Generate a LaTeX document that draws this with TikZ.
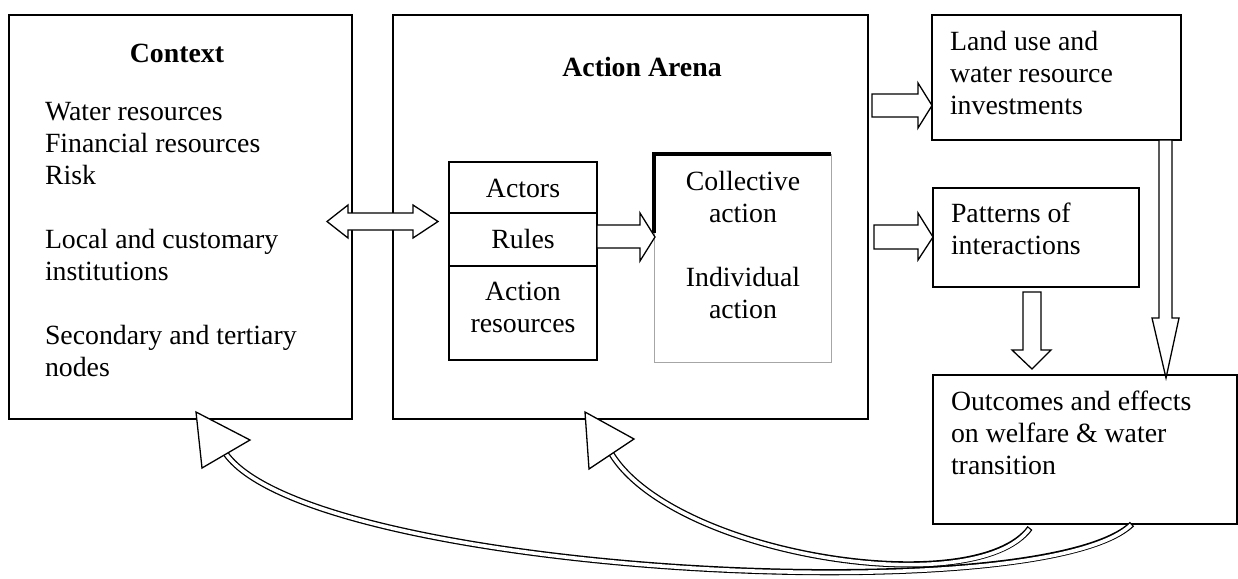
\documentclass[tikz,border=0pt]{standalone}
\usepackage{fontspec}
\setmainfont{Liberation Serif}
\usetikzlibrary{calc}
\begin{document}
\begin{tikzpicture}[x=1pt,y=-1pt,
  box/.style={draw, line width=1.3pt, inner sep=0pt, outer sep=0pt},
  txt/.style={inner sep=0pt, outer sep=0pt, font=\fontsize{27.8}{32}\selectfont},
  ltxt/.style={txt, align=left, anchor=base west},
  ctxt/.style={txt, align=center, anchor=base},
  barrow/.style={draw, fill=white, line width=1.3pt, line join=miter},
  shaftout/.style={line width=6.2pt},
  shaftin/.style={white, line width=3.6pt, shorten >=1.3pt}]
\useasboundingbox (0,0) rectangle (1238,578);

% main boxes
\node[box, minimum width=343pt, minimum height=404pt] (ctx) at (180.5,217) {};
\node[box, minimum width=475pt, minimum height=404pt] (arena) at (630.5,217) {};
\node[box, minimum width=148pt, minimum height=51pt] (actors) at (523,187.5) {};
\node[box, minimum width=148pt, minimum height=53pt] (rules) at (523,239.5) {};
\node[box, minimum width=148pt, minimum height=94pt] (ares) at (523,313) {};
\node[draw=gray!70, line width=1pt, inner sep=0pt, minimum width=177pt, minimum height=208pt] (coll) at (742.5,258) {};
\draw[line width=4pt] (654,233) -- (654,154) -- (831,154);
\node[box, minimum width=249pt, minimum height=125pt] (land) at (1056.5,77.5) {};
\node[box, minimum width=206pt, minimum height=99pt] (patt) at (1036,237.5) {};
\node[box, minimum width=304pt, minimum height=149pt] (outc) at (1085,449.5) {};

% block arrows
\draw[barrow] (327,221.5) -- (348,205) -- (348,213) -- (413,213) -- (413,205) -- (438,221.5)
  -- (413,238) -- (413,230) -- (348,230) -- (348,238) -- cycle;
\draw[barrow] (597,225) -- (640,225) -- (640,213) -- (655,237) -- (640,261) -- (640,248) -- (597,248) -- cycle;
\draw[barrow] (872,94) -- (918,94) -- (918,83) -- (932,105.5) -- (918,128) -- (918,117) -- (872,117) -- cycle;
\draw[barrow] (874,225) -- (918,225) -- (918,213) -- (933,237) -- (918,260) -- (918,249) -- (874,249) -- cycle;
\draw[barrow] (1023,292) -- (1041,292) -- (1041,350) -- (1051,350) -- (1032,369) -- (1012,350) -- (1023,350) -- cycle;
\draw[barrow] (1159,140) -- (1172,140) -- (1172,318) -- (1179,318) -- (1166,378) -- (1152,318) -- (1159,318) -- cycle;

% curved feedback arrows
\draw[shaftout] (226,454) .. controls (313,574) and (1040,612) .. (1132,524);
\draw[shaftin] (226,454) .. controls (313,574) and (1040,612) .. (1132,524);
\draw[shaftout] (611.5,454) .. controls (675,556) and (975,602) .. (1030,528);
\draw[shaftin] (611.5,454) .. controls (675,556) and (975,602) .. (1030,528);
\draw[barrow] (196,412) -- (250,440) -- (202,468) -- cycle;
\draw[barrow] (585,412) -- (634,439) -- (589,469) -- cycle;

% texts (base anchor = baseline of last line)
\node[ctxt, font=\fontsize{27.8}{32}\selectfont\bfseries] (tctx) at (177,63) {Context};
\node[ltxt] (tc1) at (45,184) {Water resources\\Financial resources\\Risk};
\node[ltxt] (tc2) at (45,280) {Local and customary\\institutions};
\node[ltxt] (tc3) at (45,376) {Secondary and tertiary\\nodes};
\node[ctxt, font=\fontsize{27.8}{32}\selectfont\bfseries] (tarena) at (642,76) {Action Arena};
\node[ctxt] (tact) at (523,197) {Actors};
\node[ctxt] (trul) at (523,248) {Rules};
\node[ctxt] (tares) at (523,332) {Action\\resources};
\node[ctxt] (tcol1) at (743,222) {Collective\\action};
\node[ctxt] (tcol2) at (743,318) {Individual\\action};
\node[ltxt] (tland) at (950,114) {Land use and\\water resource\\investments};
\node[ltxt] (tpatt) at (951,254) {Patterns of\\interactions};
\node[ltxt] (toutc) at (951,474) {Outcomes and effects\\on welfare \& water\\transition};
\end{tikzpicture}
\end{document}
